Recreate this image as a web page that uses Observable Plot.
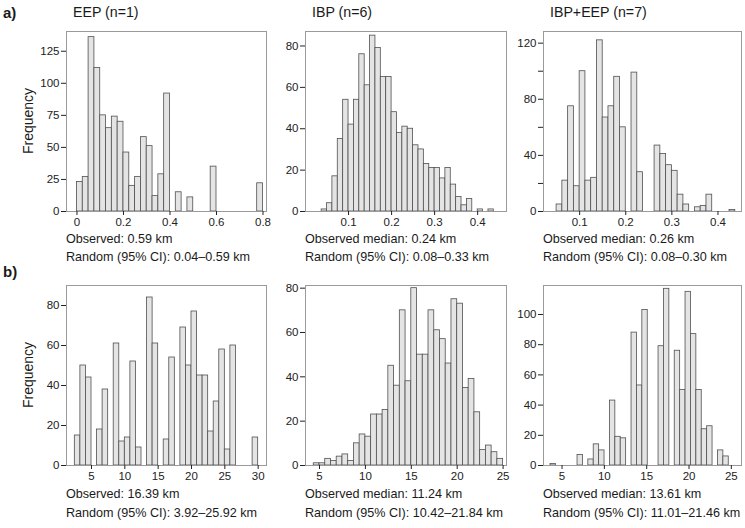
<!DOCTYPE html>
<html><head><meta charset="utf-8">
<script src="https://cdn.jsdelivr.net/npm/d3@7"></script>
<script src="https://cdn.jsdelivr.net/npm/@observablehq/plot@0.6"></script>
<style>
body{margin:0;background:#fff;}
#wrap{position:relative;width:745px;height:528px;font-family:"Liberation Sans",Arial,Helvetica,sans-serif;color:#1a1a1a;overflow:hidden;background:#fff}
.t{position:absolute;white-space:nowrap;line-height:1}
</style></head><body><div id="wrap"></div>
<script>
// ---- data: histogram counts (1000 random simulations each) ----
const a1Start = 0, a1Width = 0.025;
const a1Counts = [23,27,136,112,75,65,74,70,46,20,27,58,51,12,29,92,0,15,0,11,0,0,0,35,0,0,0,0,0,0,0,22];
const a2Start = 0.0375, a2Width = 0.0125;
const a2Counts = [1,4,17,35,54,42,54,76,61,85,79,65,65,48,38,41,40,32,30,23,21,21,16,21,13,7,3,6,0,1,0,1];
const a3Start = 0.05, a3Width = 0.0125;
const a3Counts = [5,22,75,18,100,22,24,122,67,75,96,60,0,99,28,0,0,47,41,33,29,12,5,0,3,4,12,0,0,0,1];
const b1Start = 2.5, b1Width = 5/6;
const b1Counts = [15,50,44,0,18,38,0,61,12,14,52,9,0,84,61,0,13,54,0,69,50,77,45,45,17,32,58,8,60,0,0,0,14];
const b2Start = 4.375, b2Width = 0.625;
const b2Counts = [1,1,3,2,4,5,2,10,14,13,23,23,25,45,36,70,38,80,50,50,70,61,57,46,75,73,35,39,24,7,9,6,3];
const b3Start = 3.64, b3Width = 0.638;
const b3Counts = [1,0,0,0,0,7,0,4,14,10,0,43,19,18,0,88,53,103,0,0,79,117,0,76,50,115,87,50,24,26,0,10,6];

// ---- tick values ----
const a1XTicks = [0,0.2,0.4,0.6,0.8];
const a2XTicks = [0.1,0.2,0.3,0.4];
const a3XTicks = [0.1,0.2,0.3,0.4];
const b1XTicks = [5,10,15,20,25,30];
const b2XTicks = [5,10,15,20,25];
const b3XTicks = [5,10,15,20,25];
const a1YTicks = [0,25,50,75,100,125];
const a2YTicks = [0,20,40,60,80];
const a3YTicks = [0,20,40,60,80,100,120];
const a3YLabels = [0,40,80,120];
const b1YTicks = [0,20,40,60,80];
const b2YTicks = [0,20,40,60,80];
const b3YTicks = [0,20,40,60,80,100];

// ---- texts ----
const rowLabels = ["a)","b)"];
const panelTitles = ["EEP (n=1)","IBP (n=6)","IBP+EEP (n=7)"];
const yTitle = "Frequency";
const observedA = ["Observed: 0.59 km","Observed median: 0.24 km","Observed median: 0.26 km"];
const randomA = ["Random (95% CI): 0.04–0.59 km","Random (95% CI): 0.08–0.33 km","Random (95% CI): 0.08–0.30 km"];
const observedB = ["Observed: 16.39 km","Observed median: 11.24 km","Observed median: 13.61 km"];
const randomB = ["Random (95% CI): 3.92–25.92 km","Random (95% CI): 10.42–21.84 km","Random (95% CI): 11.01–21.46 km"];

// ---- layout ----
const wrap = document.getElementById("wrap");
const colLeft = [66,305,543], colW = [200,201,198];
const rowTop = [31,285], rowH = [180,180];
const ML=44, MR=3, MT=2, MB=22;

const panels = [
  {s:a1Start,w:a1Width,c:a1Counts,xd:[-0.045,0.815],ym:140.4,xt:a1XTicks,yt:a1YTicks,r:0,k:0},
  {s:a2Start,w:a2Width,c:a2Counts,xd:[0,0.467],ym:87,xt:a2XTicks,yt:a2YTicks,r:0,k:1},
  {s:a3Start,w:a3Width,c:a3Counts,xd:[0.0216,0.451],ym:128.3,xt:a3XTicks,yt:a3YTicks,yl:a3YLabels,r:0,k:2},
  {s:b1Start,w:b1Width,c:b1Counts,xd:[1.25,31.25],ym:90,xt:b1XTicks,yt:b1YTicks,r:1,k:0},
  {s:b2Start,w:b2Width,c:b2Counts,xd:[3.475,25.37],ym:81.2,xt:b2XTicks,yt:b2YTicks,r:1,k:1},
  {s:b3Start,w:b3Width,c:b3Counts,xd:[2.81,26.2],ym:119.2,xt:b3XTicks,yt:b3YTicks,r:1,k:2}
];

for (const p of panels) {
  const bins = p.c.map((v,i)=>({x1:p.s+i*p.w, x2:p.s+(i+1)*p.w, y:v})).filter(d=>d.y>0);
  const fw = colW[p.k], fh = rowH[p.r];
  const svg = Plot.plot({
    width: fw+ML+MR, height: fh+MT+MB,
    marginLeft: ML, marginRight: MR, marginTop: MT, marginBottom: MB,
    style: {background:"transparent", fontFamily:'"Liberation Sans",Arial,sans-serif', fontSize:"11.5px", color:"#222", overflow:"visible"},
    x: {domain: p.xd},
    y: {domain: [0, p.ym]},
    marks: [
      Plot.rectY(bins, {x1:"x1", x2:"x2", y:"y", fill:"#e4e4e4", stroke:"#505050", strokeWidth:0.8}),
      Plot.frame({stroke:"#9a9a9a"}),
      Plot.axisX({ticks:p.xt, tickSize:4, tickPadding:2, label:null, tickFormat:d=>String(d)}),
      Plot.axisY({ticks:p.yt, tickSize:5, tickPadding:2, label:null,
        tickFormat: p.yl ? (d => p.yl.includes(d) ? String(d) : "") : (d=>String(d))})
    ]
  });
  svg.style.position = "absolute";
  svg.style.left = (colLeft[p.k]-ML)+"px";
  svg.style.top = (rowTop[p.r]-MT)+"px";
  wrap.appendChild(svg);
}

function addText(str, x, cy, size, weight, extra) {
  const d = document.createElement("div");
  d.className = "t";
  d.textContent = str;
  d.style.left = x+"px";
  d.style.top = (cy - 0.49*size)+"px";
  d.style.fontSize = size+"px";
  if (weight) d.style.fontWeight = weight;
  if (extra) Object.assign(d.style, extra);
  wrap.appendChild(d);
  return d;
}
addText(rowLabels[0], 3, 12, 15, "bold");
addText(rowLabels[1], 3, 271, 15, "bold");
panelTitles.forEach((t,i)=>addText(t, colLeft[i]+7, 12, 14.2));
observedA.forEach((t,i)=>addText(t, colLeft[i], 239, 12.6));
randomA.forEach((t,i)=>addText(t, colLeft[i], 257, 12.6));
observedB.forEach((t,i)=>addText(t, colLeft[i], 494, 12.6));
randomB.forEach((t,i)=>addText(t, colLeft[i], 513, 12.6));
[121, 375].forEach(cy=>{
  const d = document.createElement("div");
  d.className = "t";
  d.textContent = yTitle;
  d.style.fontSize = "14px";
  d.style.left = "28px";
  d.style.top = cy+"px";
  d.style.transform = "translate(-50%,-50%) rotate(-90deg)";
  wrap.appendChild(d);
});
</script></body></html>
